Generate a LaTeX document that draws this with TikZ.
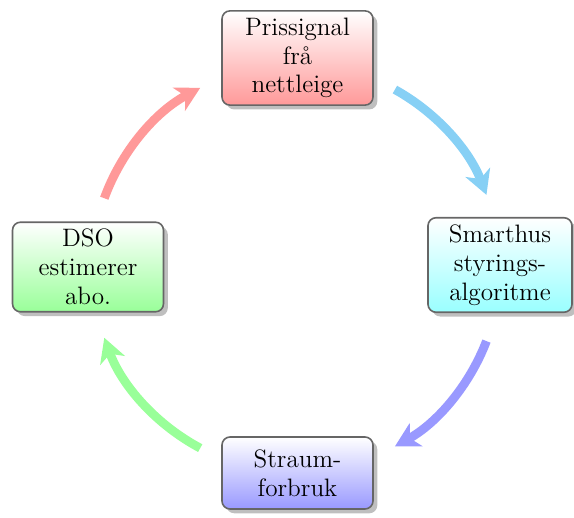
\documentclass[tikz,border=0pt]{standalone}
\usepackage{tikz}
\usetikzlibrary{shadows}
\usetikzlibrary{calc}
\usetikzlibrary{arrows.meta}
\definecolor{himmelblaa}{RGB}{135,208,245}

\begin{document}
\begin{tikzpicture}[x=0.5pt,y=-0.5pt,>={Stealth[length=12pt,width=13pt,inset=3.5pt]},
boks/.style={ rectangle,rounded corners=4pt,draw=black!60,line width=0.8pt,top color=white,
text width=62pt,align=center,minimum width=75.5pt,minimum height=36pt,inner sep=3.5pt,
font=\fontsize{12.6}{14.4}\selectfont,drop shadow},
pil/.style={->,line width=4.4pt}]

\pgfmathsetmacro{\radius}{102}

\useasboundingbox (0,0) rectangle (574,518);

\coordinate (midt) at (296,268);

\node[boks,bottom color=red!40](pris) at (297.5,58){Prissignal\\frå\\nettleige};
\node[boks,bottom color=cyan!40,minimum width=72pt](smart) at (500,265){Smarthus\\styrings-\\algoritme};
\node[boks,bottom color=blue!40](straum) at (297.5,473){Straum-\\forbruk};
\node[boks,bottom color=green!40](dso) at (88,267){DSO\\estimerer\\abo.};

\draw[pil,himmelblaa] ($(midt)+(61:\radius pt)$) arc[start angle=61,end angle=21,radius=\radius pt];
\draw[pil,blue!40] ($(midt)+(-21:\radius pt)$) arc[start angle=-21,end angle=-61,radius=\radius pt];
\draw[pil,green!40] ($(midt)+(-118:\radius pt)$) arc[start angle=-118,end angle=-160,radius=\radius pt];
\draw[pil,red!40] ($(midt)+(160:\radius pt)$) arc[start angle=160,end angle=118,radius=\radius pt];

\end{tikzpicture}
\end{document}
